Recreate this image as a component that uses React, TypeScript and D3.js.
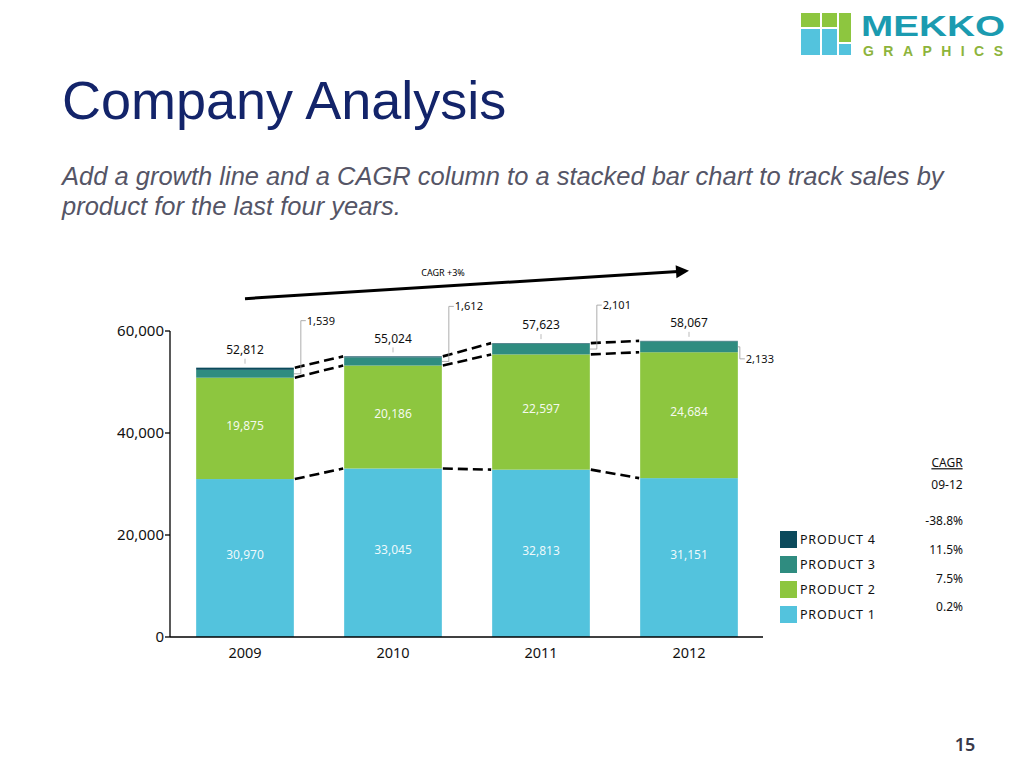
import React from "react";
import * as d3 from "d3";

const years = ["2009", "2010", "2011", "2012"];
const product1 = [30970, 33045, 32813, 31151];
const product2 = [19875, 20186, 22597, 24684];
const product3 = [1539, 1612, 2101, 2133];
const totals = [52812, 55024, 57623, 58067];
const productNames = ["PRODUCT 1", "PRODUCT 2", "PRODUCT 3", "PRODUCT 4"];
const cagrLabels = ["0.2%", "7.5%", "11.5%", "-38.8%"];
const yTicks = [0, 20000, 40000, 60000];
const totalCagrLabel = "CAGR +3%";

const colors = ["#53C3DD", "#8DC63F", "#2F8C80", "#0B4A5C"];
const p3LabelLift = [47, 50, 38];

const FONT = "'Noto Sans', 'Open Sans', sans-serif";
const fmt = d3.format(",");

export default function App() {
  const product4 = totals.map((t, i) => t - product1[i] - product2[i] - product3[i]);
  const rows = years.map((y, i) => ({
    year: y,
    p1: product1[i],
    p2: product2[i],
    p3: product3[i],
    p4: product4[i],
  }));
  const keys = ["p1", "p2", "p3", "p4"];
  const series = d3.stack<any>().keys(keys)(rows);

  const x = d3.scaleBand().domain(years).range([171, 763]).paddingInner(0.34).paddingOuter(0.17);
  const y = d3.scaleLinear().domain([0, 60000]).range([637, 331]);
  const bw = x.bandwidth();

  const dashLevels = [0, 1, 3]; // tops of product 1, product 2, total

  const arrowStart = [x(years[0])! + bw / 2, y(totals[0]) - 69];
  const arrowEnd = [x(years[3])! + bw / 2, y(totals[3]) - 70];
  const ang = Math.atan2(arrowEnd[1] - arrowStart[1], arrowEnd[0] - arrowStart[0]);
  const ah = 13, aw = 6.5;
  const lineEnd = [arrowEnd[0] - Math.cos(ang) * (ah - 2), arrowEnd[1] - Math.sin(ang) * (ah - 2)];
  const baseX = arrowEnd[0] - Math.cos(ang) * ah;
  const baseY = arrowEnd[1] - Math.sin(ang) * ah;
  const headPts = [
    [arrowEnd[0], arrowEnd[1]],
    [baseX - Math.sin(ang) * aw, baseY + Math.cos(ang) * aw],
    [baseX + Math.sin(ang) * aw, baseY - Math.cos(ang) * aw],
  ];
  const midX = (arrowStart[0] + arrowEnd[0]) / 2;
  const midY = (arrowStart[1] + arrowEnd[1]) / 2;

  return (
    <svg
      width={1024}
      height={768}
      style={{ position: "absolute", left: 0, top: 0, background: "#fff" }}
    >
      {/* Logo */}
      <g>
        <rect x={801} y={13} width={19} height={14} fill="#8DC63F" />
        <rect x={822} y={13} width={15} height={14} fill="#8DC63F" />
        <rect x={839} y={13} width={12} height={29} fill="#8DC63F" />
        <rect x={801} y={29} width={19} height={26} fill="#53C3DD" />
        <rect x={822} y={29} width={15} height={26} fill="#53C3DD" />
        <rect x={839} y={44} width={12} height={11} fill="#53C3DD" />
        <text x={861} y={36} fill="#1B9BB0" fontFamily="'Liberation Sans', Arial, sans-serif" fontWeight={700} fontSize={30} textLength={144} lengthAdjust="spacingAndGlyphs">MEKKO</text>
        <text x={863} y={55.5} fill="#8DB43C" fontFamily="'Liberation Sans', Arial, sans-serif" fontWeight={700} fontSize={14} textLength={140} lengthAdjust="spacing">GRAPHICS</text>
      </g>

      {/* Title */}
      <text x={62} y={119} fill="#13246A" fontFamily="'Liberation Sans', Arial, sans-serif" fontSize={54}>Company Analysis</text>
      <text fill="#555566" fontFamily="'Liberation Sans', Arial, sans-serif" fontSize={25.5} fontStyle="italic">
        <tspan x={62} y={185}>Add a growth line and a CAGR column to a stacked bar chart to track sales by</tspan>
        <tspan x={62} y={215}>product for the last four years.</tspan>
      </text>

      {/* Bars */}
      {series.map((s, si) => (
        <g key={s.key} fill={colors[si]}>
          {s.map((d, i) => (
            <rect key={i} x={x(years[i])} width={bw} y={y(d[1])} height={y(d[0]) - y(d[1])} />
          ))}
        </g>
      ))}

      {/* Dashed connectors */}
      {dashLevels.map((lvl) =>
        years.slice(0, -1).map((yr, i) => (
          <line
            key={`${lvl}-${i}`}
            x1={x(yr)! + bw + 1}
            y1={y(series[lvl][i][1])}
            x2={x(years[i + 1])! - 1}
            y2={y(series[lvl][i + 1][1])}
            stroke="#000"
            strokeWidth={2.6}
            strokeDasharray="10,5"
          />
        ))
      )}

      {/* Axes */}
      <line x1={170} x2={170} y1={y(60000)} y2={y(0)} stroke="#000" strokeWidth={1.3} />
      <line x1={170} x2={763} y1={y(0)} y2={y(0)} stroke="#000" strokeWidth={1.3} />
      {yTicks.map((t) => (
        <g key={t}>
          <line x1={165} x2={170} y1={y(t)} y2={y(t)} stroke="#000" strokeWidth={1.3} />
          <text x={164} y={y(t)} dy="0.35em" textAnchor="end" fontFamily={FONT} fontSize={15} fill="#111">
            {fmt(t)}
          </text>
        </g>
      ))}
      {years.map((yr) => (
        <text key={yr} x={x(yr)! + bw / 2} y={653} dy="0.35em" textAnchor="middle" fontFamily={FONT} fontSize={14.5} fill="#111">
          {yr}
        </text>
      ))}

      {/* Inner labels */}
      {years.map((yr, i) => (
        <g key={yr} fontFamily={FONT} fontSize={12} fill="#fff" fillOpacity={0.92} textAnchor="middle">
          <text x={x(yr)! + bw / 2} y={(y(series[0][i][0]) + y(series[0][i][1])) / 2 - 3} dy="0.35em">
            {fmt(product1[i])}
          </text>
          <text x={x(yr)! + bw / 2} y={(y(series[1][i][0]) + y(series[1][i][1])) / 2 - 3} dy="0.35em">
            {fmt(product2[i])}
          </text>
        </g>
      ))}

      {/* Total labels */}
      {years.map((yr, i) => (
        <g key={yr}>
          <line x1={x(yr)! + bw / 2} x2={x(yr)! + bw / 2} y1={y(totals[i]) - 4} y2={y(totals[i]) - 9} stroke="#aaa" strokeWidth={0.8} />
          <text x={x(yr)! + bw / 2} y={y(totals[i]) - 18} dy="0.35em" textAnchor="middle" fontFamily={FONT} fontSize={12} fill="#111">
            {fmt(totals[i])}
          </text>
        </g>
      ))}

      {/* Product 3 leader labels */}
      {years.map((yr, i) => {
        const right = x(yr)! + bw;
        const mid = (y(series[2][i][0]) + y(series[2][i][1])) / 2;
        const last = i === years.length - 1;
        const ly = last ? y(totals[i]) + 18 : y(totals[i]) - p3LabelLift[i];
        const vx = last ? right + 2 : right + 7;
        const path = `M${right},${mid}H${vx}V${ly}H${vx + 5}`;
        return (
          <g key={yr}>
            <path d={path} fill="none" stroke="#999" strokeWidth={0.8} />
            <text x={vx + 6} y={ly} dy="0.35em" fontFamily={FONT} fontSize={11} fill="#111">
              {fmt(product3[i])}
            </text>
          </g>
        );
      })}

      {/* CAGR arrow */}
      <line x1={arrowStart[0]} y1={arrowStart[1]} x2={lineEnd[0]} y2={lineEnd[1]} stroke="#000" strokeWidth={3} />
      <polygon points={headPts.map((p) => p.join(",")).join(" ")} fill="#000" />
      <text x={midX - 24} y={midY - 9} textAnchor="middle" fontFamily={FONT} fontSize={9} fill="#000">
        {totalCagrLabel}
      </text>

      {/* Legend */}
      {productNames.map((name, i) => {
        const top = 606 - i * 25;
        return (
          <g key={name}>
            <rect x={780} y={top} width={17} height={17} fill={colors[i]} />
            <text x={800} y={top + 9} dy="0.35em" fontFamily={FONT} fontSize={12.5} letterSpacing={0.8} fill="#111">
              {name}
            </text>
          </g>
        );
      })}

      {/* CAGR column */}
      <text x={947} y={463} dy="0.35em" textAnchor="middle" fontFamily={FONT} fontSize={12} fill="#111" textDecoration="underline">CAGR</text>
      <text x={947} y={485} dy="0.35em" textAnchor="middle" fontFamily={FONT} fontSize={12} fill="#111">09-12</text>
      {cagrLabels.map((c, i) => (
        <text key={i} x={963} y={607 - i * 28.7} dy="0.35em" textAnchor="end" fontFamily={FONT} fontSize={12} fill="#111">
          {c}
        </text>
      ))}

      {/* Page number */}
      <text x={965} y={745} dy="0.35em" textAnchor="middle" fontFamily={FONT} fontSize={18} fontWeight={600} fill="#3A3A4A">15</text>
    </svg>
  );
}
